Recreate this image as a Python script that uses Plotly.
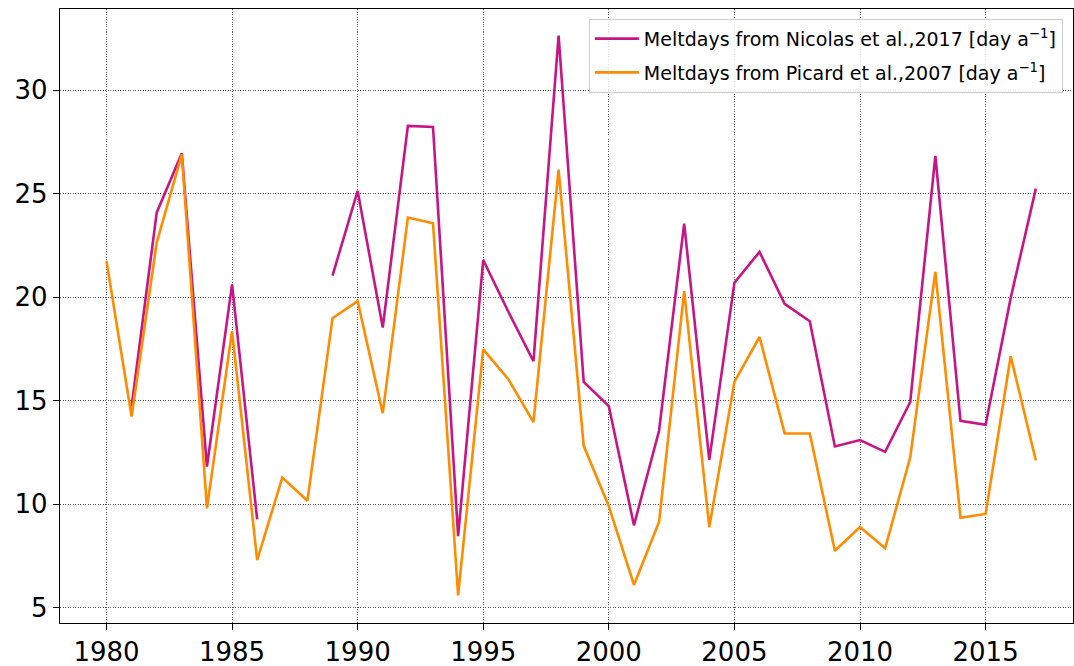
import plotly.graph_objects as go

years = list(range(1980, 2018))

nicolas = [None, 14.71, 24.08, 26.95, 11.81, 20.61, 9.26, None, None, 21.04,
           25.13, 18.53, 28.27, 28.22, 8.45, 21.79, 19.29, 16.90, 32.63, 15.90,
           14.73, 8.97, 13.54, 23.55, 12.13, 20.69, 22.18, 19.67, 18.83, 12.78,
           13.09, 12.52, 14.93, 26.82, 14.02, 13.83, 19.96, 25.24]

picard = [21.74, 14.23, 22.63, 26.90, 9.79, 18.35, 7.29, 11.28, 10.16, 18.98,
          19.80, 14.39, 23.84, 23.57, 5.58, 17.47, 16.03, 13.96, 26.16, 12.81,
          9.89, 6.09, 9.13, 20.29, 8.88, 15.90, 18.07, 13.41, 13.41, 7.74,
          8.89, 7.86, 12.26, 21.22, 9.33, 9.52, 17.14, 12.10]

x_ticks = [1980, 1985, 1990, 1995, 2000, 2005, 2010, 2015]
y_ticks = [5, 10, 15, 20, 25, 30]

name_n = "Meltdays from Nicolas et al.,2017 [day a<sup>\u22121</sup>]"
name_p = "Meltdays from Picard et al.,2007 [day a<sup>\u22121</sup>]"

fig = go.Figure()
fig.add_trace(go.Scatter(x=years, y=nicolas, mode="lines", name=name_n, legendgroup="n",
                         line=dict(color="#C71585", width=2.6), connectgaps=False))
fig.add_trace(go.Scatter(x=years, y=picard, mode="lines", name=name_p, legendgroup="p",
                         line=dict(color="#FF8C00", width=2.6), connectgaps=False))

axis_common = dict(
    showline=True, linecolor="black", linewidth=1.3, mirror=True,
    ticks="outside", ticklen=6, tickwidth=1.2, tickcolor="black",
    showgrid=True, gridcolor="#555555", gridwidth=0.8, griddash="1px,1.5px",
    zeroline=False, automargin=False,
    tickfont=dict(family="DejaVu Sans", size=26, color="black"),
)

fig.update_xaxes(range=[1978.15, 2018.48], tickvals=x_ticks, **axis_common)
fig.update_yaxes(range=[4.25, 33.92], tickvals=y_ticks, **axis_common)

fig.update_layout(
    width=1074, height=666,
    margin=dict(l=60, r=1, t=9, b=43, autoexpand=False),
    plot_bgcolor="white", paper_bgcolor="white",
    font=dict(family="DejaVu Sans", color="black"),
    legend=dict(x=0.99, y=0.984, xanchor="right", yanchor="top",
                font=dict(family="DejaVu Sans", size=19, color="black"),
                bgcolor="rgba(255,255,255,0.85)", bordercolor="#cccccc", borderwidth=1,
                tracegroupgap=6, itemwidth=44),
    showlegend=True,
)

fig.write_html(
    "out.html",
    config={"displayModeBar": False},
    post_script="document.body.style.margin='0';document.body.style.padding='0';"
                "document.body.style.overflow='hidden';",
)
